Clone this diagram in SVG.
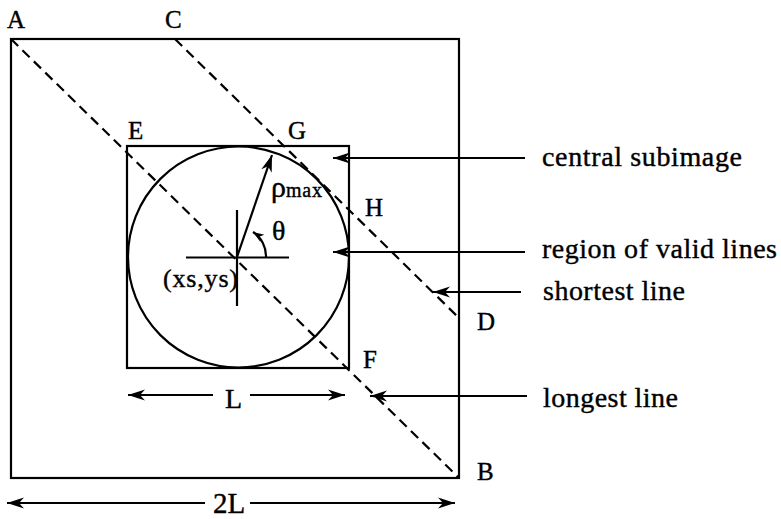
<svg xmlns="http://www.w3.org/2000/svg" width="781" height="519" viewBox="0 0 781 519">
<style>
.ln{stroke:#000;stroke-width:2.2;fill:none}
.ds{stroke:#000;stroke-width:2.2;fill:none;stroke-dasharray:10,6}
.ar{stroke:#000;stroke-width:2.2;fill:none;marker-end:url(#ah)}
text{font-family:"Liberation Serif","Times New Roman",serif;fill:#000;stroke:#000;stroke-width:0.4}
.lb{font-size:25px}
.rt{font-size:28px}
</style>
<defs>
<marker id="ah" viewBox="-18 -6 20 12" refX="0" refY="0" markerWidth="20" markerHeight="12" markerUnits="userSpaceOnUse" orient="auto-start-reverse">
<path d="M0,0 L-17,-5.5 L-12,0 L-17,5.5 Z" fill="#000"/>
</marker>
<marker id="sh" viewBox="-12 -5 14 10" refX="0" refY="0" markerWidth="14" markerHeight="10" markerUnits="userSpaceOnUse" orient="auto">
<path d="M0,0 L-11,-4 L-8,0 L-11,4 Z" fill="#000"/>
</marker>
</defs>
<g id="outer-square">
<rect class="ln" x="11" y="39" width="448" height="439"/>
</g>
<g id="central-subimage">
<rect class="ln" x="127" y="146" width="222" height="222"/>
</g>
<g id="valid-region">
<circle class="ln" cx="238.5" cy="257" r="110.5"/>
</g>
<g id="axes">
<line class="ln" x1="186" y1="257.5" x2="289" y2="257.5"/>
<line class="ln" x1="237" y1="210" x2="237" y2="306"/>
</g>
<g id="labels">
<text class="lb" x="7" y="28">A</text>
<text class="lb" x="165" y="28">C</text>
<text class="lb" x="128" y="139">E</text>
<text class="lb" x="288" y="139">G</text>
<text class="lb" x="365" y="216">H</text>
<text class="lb" x="477" y="330">D</text>
<text class="lb" x="363" y="368">F</text>
<text class="lb" x="477" y="480">B</text>
<text x="163" y="287" font-size="26" textLength="75">(xs,ys)</text>
<text x="272" y="240" font-size="28">θ</text>
<text x="271" y="197" font-size="30">ρ</text>
<text x="286" y="197" font-size="20" textLength="36">max</text>
<text x="225" y="408" font-size="28">L</text>
<text x="213" y="513" font-size="29">2L</text>
<text class="rt" x="542" y="166" textLength="200">central subimage</text>
<text class="rt" x="542" y="258" textLength="235">region of valid lines</text>
<text class="rt" x="543" y="300" textLength="142">shortest line</text>
<text class="rt" x="543" y="407" textLength="135">longest line</text>
</g>
<g id="connectors">
<line class="ds" x1="11" y1="39" x2="459" y2="478"/>
<line class="ds" x1="175" y1="39" x2="458" y2="317"/>
<line class="ar" x1="237" y1="257" x2="272" y2="155"/>
<path d="M266,257 A29,29 0 0 0 253,232" stroke="#000" stroke-width="2.2" fill="none" marker-end="url(#sh)"/>
<line class="ar" x1="525" y1="158" x2="333" y2="158"/>
<line class="ar" x1="525" y1="252" x2="333" y2="252"/>
<line class="ar" x1="521" y1="292" x2="433" y2="292"/>
<line class="ar" x1="527" y1="396" x2="370" y2="396"/>
<line class="ln" x1="128" y1="395" x2="213" y2="395" marker-start="url(#ah)"/>
<line class="ln" x1="250" y1="395" x2="345" y2="395" marker-end="url(#ah)"/>
<line class="ln" x1="7" y1="503" x2="205" y2="503" marker-start="url(#ah)"/>
<line class="ln" x1="250" y1="503" x2="455" y2="503" marker-end="url(#ah)"/>
</g>
</svg>
